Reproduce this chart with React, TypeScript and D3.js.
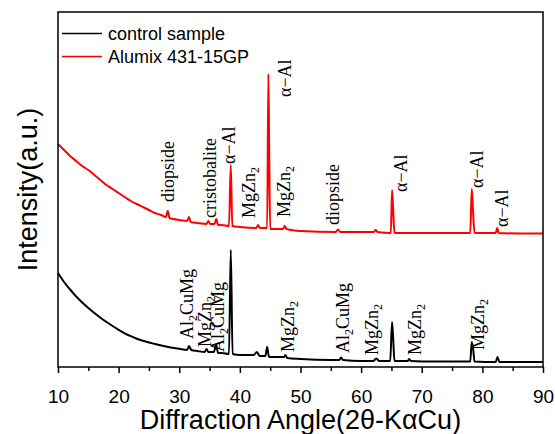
import React, { useEffect, useRef } from 'react';
import * as d3 from 'd3';

// XRD patterns: [2theta (deg), intensity (a.u.)]
const controlSample: [number, number][] = [
  [10, 940], [11, 850], [12, 775], [13, 705], [14, 645], [15, 590], [16, 540], [17, 493],
  [18, 450], [19, 410], [20, 372], [21, 337], [22, 308], [23, 283], [24, 262], [26, 230],
  [28, 203], [30, 182],
  [31.3, 170], [31.6, 210], [32.0, 170], [33, 160], [34.2, 150], [34.5, 180], [34.8, 150],
  [35.7, 150], [36.1, 220], [36.4, 140], [37, 140], [38.2, 130], [38.5, 1170], [38.8, 130],
  [40, 120], [42.3, 120], [42.8, 150], [43.3, 110], [44.2, 110], [44.5, 200], [44.8, 100],
  [46, 100], [47.3, 100], [47.5, 120], [47.8, 90], [50, 80], [55, 70], [56.4, 70],
  [56.7, 95], [57.0, 70], [60, 60], [62.0, 60], [62.5, 85], [63.0, 60], [64.8, 60],
  [65.1, 450], [65.3, 270], [65.5, 60], [67.7, 60], [67.9, 80], [68.2, 60], [72, 55],
  [78.0, 55], [78.25, 250], [78.5, 170], [78.7, 55], [82.2, 50], [82.5, 100], [82.8, 50],
  [86, 50], [90, 50],
];

const alumix: [number, number][] = [
  [10, 2230], [11, 2170], [12, 2110], [13, 2060], [14, 2010], [15, 1970], [16, 1920],
  [17, 1870], [18, 1820], [19, 1780], [20, 1740], [21, 1700], [22, 1660], [23, 1630],
  [24, 1600], [25, 1570], [26, 1540], [27, 1520], [27.8, 1500], [28.1, 1560], [28.4, 1490],
  [29, 1480], [30, 1470], [31.3, 1460], [31.6, 1500], [31.9, 1450], [33, 1440], [34.5, 1430],
  [34.8, 1460], [35.1, 1430], [35.8, 1430], [36.1, 1480], [36.4, 1420], [37, 1420],
  [38.2, 1410], [38.5, 2020], [38.75, 1410], [40, 1400], [42.7, 1390], [43.0, 1420],
  [43.3, 1390], [44.5, 1390], [44.7, 2930], [44.85, 2070], [45.0, 1380], [47.1, 1380],
  [47.4, 1410], [47.7, 1380], [50, 1360], [55.8, 1350], [56.2, 1375], [56.6, 1350],
  [60, 1350], [62.1, 1350], [62.4, 1370], [62.7, 1350], [64.9, 1340], [65.1, 1770],
  [65.3, 1550], [65.5, 1340], [68, 1340], [72, 1340], [78.0, 1340], [78.25, 1780],
  [78.45, 1570], [78.7, 1340], [82.2, 1340], [82.45, 1390], [82.7, 1340], [86, 1335],
  [90, 1335],
];

const seriesNames = ['control sample', 'Alumix 431-15GP'];
const seriesColors = ['#000000', '#ff0000'];

// phase labels: [text, subscript, rest, 2theta, intensity]
const alumixPhases: [string, string, string, number, number][] = [
  ['diopside', '', '', 29.1, 1650],
  ['cristobalite', '', '', 36.05, 1490],
  ['α−Al', '', '', 39.2, 2030],
  ['MgZn', '2', '', 42.5, 1490],
  ['α−Al', '', '', 48.4, 2700],
  ['MgZn', '2', '', 48.3, 1500],
  ['diopside', '', '', 56.35, 1420],
  ['α−Al', '', '', 67.55, 1750],
  ['α−Al', '', '', 80.1, 1790],
  ['α−Al', '', '', 84.2, 1400],
];

const controlPhases: [string, string, string, number, number][] = [
  ['Al', '2', 'CuMg', 32.3, 280],
  ['MgZn', '2', '', 35.25, 200],
  ['Al', '2', 'CuMg', 37.4, 150],
  ['MgZn', '2', '', 48.9, 150],
  ['Al', '2', 'CuMg', 58.0, 140],
  ['MgZn', '2', '', 62.8, 120],
  ['MgZn', '2', '', 69.9, 120],
  ['MgZn', '2', '', 80.3, 170],
];

const majorTicks = [10, 20, 30, 40, 50, 60, 70, 80, 90];
const minorTicks = [15, 25, 35, 45, 55, 65, 75, 85];

const App = () => {
  const ref = useRef<SVGSVGElement>(null);

  useEffect(() => {
    const svg = d3.select(ref.current);
    svg.selectAll('*').remove();

    const margin = { top: 12, right: 12, bottom: 67, left: 58 };
    const W = 555, H = 434;
    const x = d3.scaleLinear().domain([10, 90]).range([margin.left, W - margin.right]);
    const y = d3.scaleLinear().domain([0, 3550]).range([H - margin.bottom, margin.top]);

    const line = d3.line<[number, number]>()
      .x(d => x(d[0]))
      .y(d => y(d[1]))
      .curve(d3.curveMonotoneX);

    [controlSample, alumix].forEach((s, i) => {
      svg.append('path')
        .datum(s)
        .attr('d', line)
        .attr('fill', 'none')
        .attr('stroke', seriesColors[i])
        .attr('stroke-width', 2)
        .attr('stroke-linejoin', 'round');
    });

    // phase annotations
    const addLabels = (list: [string, string, string, number, number][]) => {
      list.forEach(([t, sub, rest, px, py]) => {
        const txt = svg.append('text')
          .attr('transform', `translate(${x(px)},${y(py)}) rotate(-90)`)
          .attr('font-family', '"Liberation Serif", "Times New Roman", serif')
          .attr('font-size', 18)
          .attr('fill', '#000');
        txt.append('tspan').text(t);
        if (sub) {
          txt.append('tspan').attr('dy', 4).attr('font-size', 12).text(sub);
          if (rest) txt.append('tspan').attr('dy', -4).text(rest);
        }
      });
    };
    addLabels(alumixPhases);
    addLabels(controlPhases);

    // frame
    svg.append('rect')
      .attr('x', x(10)).attr('y', y(3550))
      .attr('width', x(90) - x(10)).attr('height', y(0) - y(3550))
      .attr('fill', 'none').attr('stroke', '#000').attr('stroke-width', 1.5);

    // bottom axis
    const axis = svg.append('g').attr('transform', `translate(0,${y(0)})`);
    axis.call(
      d3.axisBottom(x).tickValues(majorTicks).tickSize(6).tickFormat(d3.format('d'))
    );
    axis.select('.domain').remove();
    axis.selectAll('line').attr('stroke-width', 1.5);
    axis.selectAll('text')
      .attr('font-family', '"Liberation Sans", Arial, sans-serif')
      .attr('font-size', 19)
      .attr('dy', '1.42em');
    svg.append('g').attr('transform', `translate(0,${y(0)})`)
      .call(d3.axisBottom(x).tickValues(minorTicks).tickSize(4).tickFormat(() => ''))
      .call(g => g.select('.domain').remove())
      .selectAll('line').attr('stroke-width', 1.5);

    svg.append('text')
      .attr('x', (x(10) + x(90)) / 2)
      .attr('y', 429)
      .attr('text-anchor', 'middle')
      .attr('font-family', '"Liberation Sans", Arial, sans-serif')
      .attr('font-size', 27)
      .text('Diffraction Angle(2θ-KαCu)');

    svg.append('text')
      .attr('transform', `translate(37,${(y(0) + y(3550)) / 2}) rotate(-90)`)
      .attr('text-anchor', 'middle')
      .attr('font-family', '"Liberation Sans", Arial, sans-serif')
      .attr('font-size', 27)
      .text('Intensity(a.u.)');

    // legend
    const legend = svg.append('g');
    seriesNames.forEach((name, i) => {
      const ly = 33.5 + i * 23;
      legend.append('line')
        .attr('x1', 62).attr('x2', 102).attr('y1', ly).attr('y2', ly)
        .attr('stroke', seriesColors[i]).attr('stroke-width', 1.5);
      legend.append('text')
        .attr('x', 108).attr('y', ly + 6)
        .attr('font-family', '"Liberation Sans", Arial, sans-serif')
        .attr('font-size', 18)
        .text(name);
    });
  }, []);

  return (
    <svg
      ref={ref}
      width={555}
      height={434}
      style={{ position: 'absolute', left: 0, top: 0, background: '#fff' }}
    />
  );
};

export default App;
